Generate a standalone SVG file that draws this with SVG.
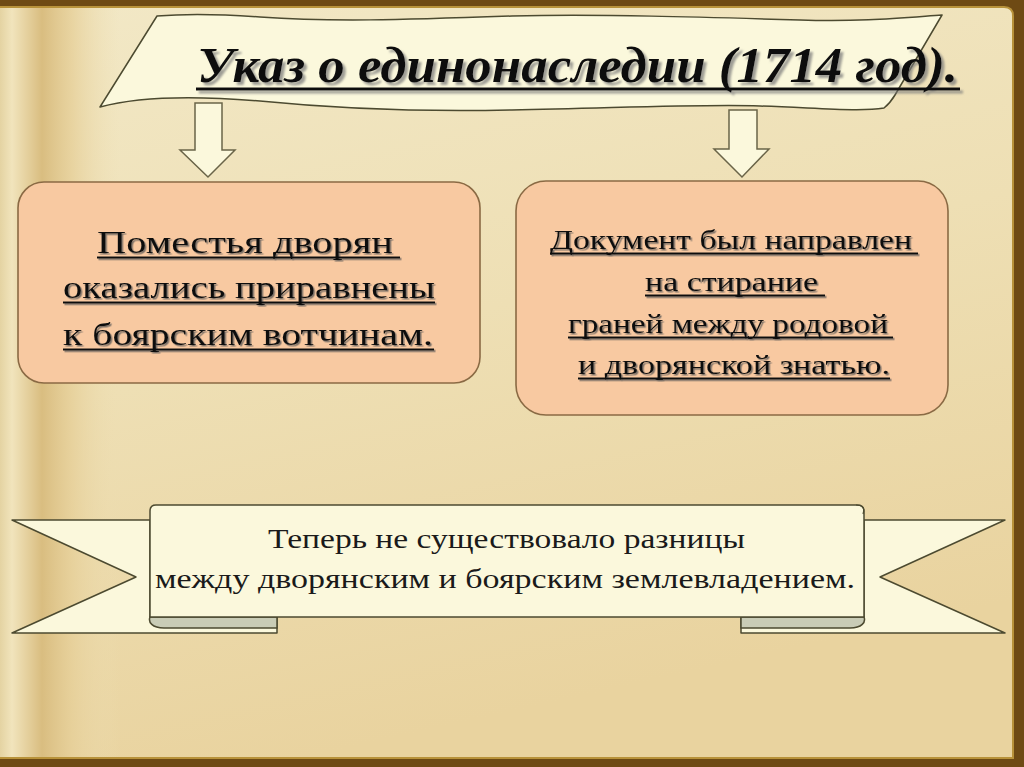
<svg xmlns="http://www.w3.org/2000/svg" width="1024" height="767" viewBox="0 0 1024 767">
  <defs>
    <linearGradient id="page" x1="0" y1="0" x2="0.3" y2="1">
      <stop offset="0" stop-color="#F2E8C6"/>
      <stop offset="0.5" stop-color="#EEDFB4"/>
      <stop offset="1" stop-color="#E9D39F"/>
    </linearGradient>
    <linearGradient id="spine" x1="0" y1="0" x2="1" y2="0">
      <stop offset="0" stop-color="#E4D3A2" stop-opacity="1"/>
      <stop offset="0.1" stop-color="#F1E4BC" stop-opacity="1"/>
      <stop offset="0.35" stop-color="#D9BD80" stop-opacity="1"/>
      <stop offset="0.6" stop-color="#E6CF98" stop-opacity="0.8"/>
      <stop offset="1" stop-color="#EEDFB4" stop-opacity="0"/>
    </linearGradient>
    <filter id="shadow" x="-5%" y="-20%" width="110%" height="140%">
      <feDropShadow dx="1.5" dy="1.5" stdDeviation="0.6" flood-color="#555" flood-opacity="0.75"/>
    </filter>
    <filter id="tshadow" x="-5%" y="-20%" width="110%" height="140%">
      <feDropShadow dx="3" dy="3" stdDeviation="1" flood-color="#777" flood-opacity="0.7"/>
    </filter>
  </defs>
  <style>
    .box { fill: #F8C9A1; stroke: #8A6A44; stroke-width: 1.6; }
    .cream { fill: #FBF8DC; stroke: #4C4A30; stroke-width: 1.5; stroke-linejoin: round; }
    .fold { fill: #C9CCB6; stroke: #4C4A30; stroke-width: 1.5; }
    .arrow { fill: #FBF8DC; stroke: #6A6448; stroke-width: 1.5; stroke-linejoin: miter; }
    .bt { font-family: "Liberation Serif", "Times New Roman", serif; font-size: 31px; fill: #111; }
    .rt { font-family: "Liberation Serif", "Times New Roman", serif; font-size: 28px; fill: #111; }
    .ft { font-family: "Liberation Serif", "Times New Roman", serif; font-size: 27px; fill: #1a1a1a; }
    .title { font-family: "Liberation Serif", "Times New Roman", serif; font-size: 50px; font-weight: bold; font-style: italic; fill: #111; }
    .ul { stroke: #111; stroke-width: 2; }
  </style>

  <!-- book frame and page -->
  <rect x="0" y="0" width="1024" height="767" fill="#6E4A14"/>
  <path d="M0,7 H1004 Q1013,7 1013,16 V758 H0 Z" fill="url(#page)" stroke="#B8923A" stroke-width="2"/>
  <rect x="0" y="8" width="120" height="749" fill="url(#spine)"/>

  <!-- title banner -->
  <g id="title">
    <path class="cream" d="M100,107 C140,96 200,96 260,101 C330,108 420,112 512,110 C620,108 700,104 760,106 C820,108 860,112 884,108 C889,104 892,100 895,95 L942,15 C900,18 860,22 800,20 C700,17 600,14 512,16 C400,20 330,22 260,17 C220,14 180,14 157,16 Z"/>
    <g filter="url(#tshadow)">
      <text class="title" x="197" y="82" textLength="761" lengthAdjust="spacingAndGlyphs">Указ о единонаследии (1714 год).</text>
      <line x1="196" y1="89" x2="960" y2="89" stroke="#111" stroke-width="3"/>
    </g>
  </g>

  <!-- connectors -->
  <g id="connectors">
    <path class="arrow" d="M195,103 H222 V150 H235 L208,177 L180,150 H195 Z"/>
    <path class="arrow" d="M729,110 H757 V149 H769 L742,177 L714,149 H729 Z"/>
  </g>

  <!-- left box -->
  <g id="box-left">
    <rect class="box" x="18" y="182" width="462" height="201" rx="26" ry="26"/>
    <g filter="url(#shadow)">
      <text class="bt" x="97" y="253" textLength="296" lengthAdjust="spacingAndGlyphs">Поместья дворян</text>
      <line class="ul" x1="97" y1="257.5" x2="400" y2="257.5"/>
      <text class="bt" x="63" y="298" textLength="372" lengthAdjust="spacingAndGlyphs">оказались приравнены</text>
      <line class="ul" x1="63" y1="302.5" x2="435" y2="302.5"/>
      <text class="bt" x="63" y="345" textLength="370" lengthAdjust="spacingAndGlyphs">к боярским вотчинам.</text>
      <line class="ul" x1="63" y1="349.5" x2="434" y2="349.5"/>
    </g>
  </g>

  <!-- right box -->
  <g id="box-right">
    <rect class="box" x="516" y="181" width="432" height="234" rx="30" ry="30"/>
    <g filter="url(#shadow)">
      <text class="rt" x="550" y="249" textLength="362" lengthAdjust="spacingAndGlyphs">Документ был направлен</text>
      <line class="ul" x1="550" y1="253.5" x2="918" y2="253.5"/>
      <text class="rt" x="645" y="291" textLength="173" lengthAdjust="spacingAndGlyphs">на стирание</text>
      <line class="ul" x1="645" y1="295.5" x2="825" y2="295.5"/>
      <text class="rt" x="568" y="333" textLength="320" lengthAdjust="spacingAndGlyphs">граней между родовой</text>
      <line class="ul" x1="568" y1="337.5" x2="893" y2="337.5"/>
      <text class="rt" x="578" y="374" textLength="312" lengthAdjust="spacingAndGlyphs">и дворянской знатью.</text>
      <line class="ul" x1="578" y1="378.5" x2="890" y2="378.5"/>
    </g>
  </g>

  <!-- bottom ribbon -->
  <g id="ribbon">
    <path class="cream" d="M12,520 H150 V617 H277 V633 H12 L136,577 Z"/>
    <path class="cream" d="M1005,520 H864 V617 H741 V633 H1005 L880,577 Z"/>
    <path class="fold" d="M150,617 H277 V628 H164 C152,628 148,622 150,617 Z"/>
    <path class="fold" d="M741,617 H864 C866,622 862,628 850,628 H741 Z"/>
    <path class="cream" d="M150,617 V511 Q150,505 156,505 H857 Q864,505 864,511 V617 Z"/>
    <path d="M856,505 Q866,505 863,514" fill="none" stroke="#4C4A30" stroke-width="1.2"/>
    <text class="ft" x="268" y="548" textLength="477" lengthAdjust="spacingAndGlyphs">Теперь не существовало разницы</text>
    <text class="ft" x="155" y="588" textLength="700" lengthAdjust="spacingAndGlyphs">между  дворянским и боярским землевладением.</text>
  </g>
</svg>
